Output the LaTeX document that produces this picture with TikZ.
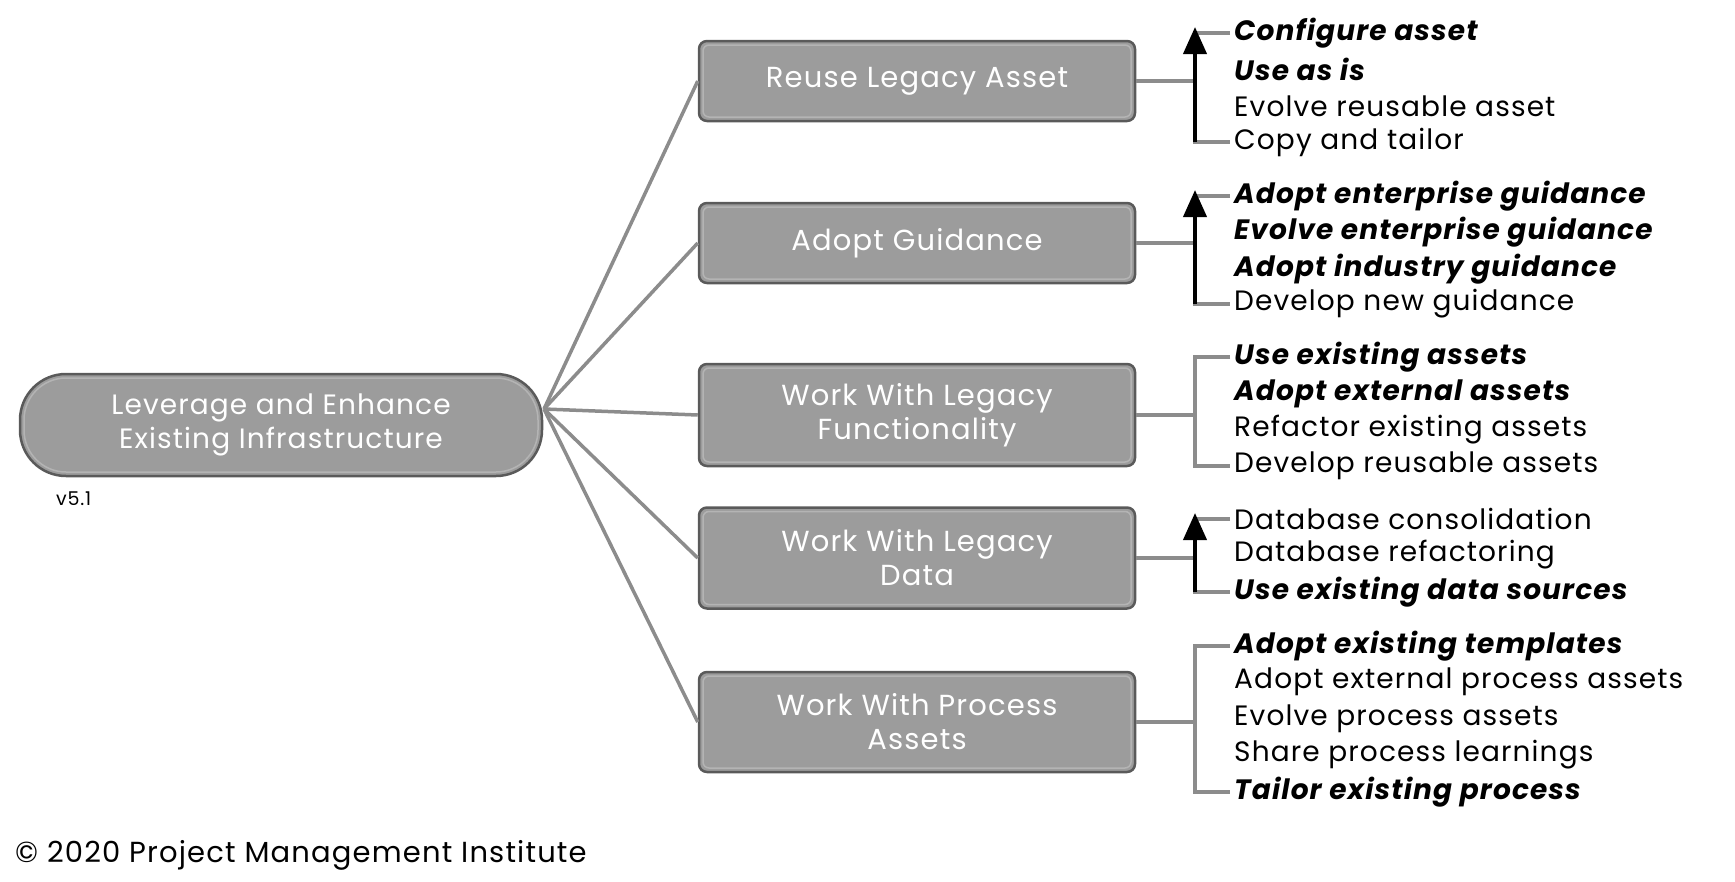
\documentclass[tikz,border=0pt]{standalone}
\usepackage{fontspec}
\setmainfont{Poppins}[LetterSpace=4]
\usetikzlibrary{arrows.meta}
\definecolor{boxfill}{HTML}{9C9C9C}
\definecolor{boxedge}{HTML}{5A5A5A}
\definecolor{boxhi}{HTML}{B4B4B4}
\definecolor{linegray}{HTML}{8C8C8C}
\tikzset{
  box/.style={draw=boxedge, line width=2.5pt, fill=boxfill, rounded corners=8pt,
    minimum width=436pt, minimum height=80pt, text=white, align=center,
    font=\fontsize{29}{34}\selectfont, inner sep=0pt,
    path picture={\draw[boxhi, line width=1.5pt, rounded corners=6pt]
      ([shift={(4pt,-4pt)}]path picture bounding box.north west) rectangle
      ([shift={(-4pt,4pt)}]path picture bounding box.south east);}},
  rootbox/.style={box, rounded corners=46pt, minimum width=522pt, minimum height=102pt,
    font=\fontsize{28}{34}\selectfont,
    path picture={\draw[boxhi, line width=1.5pt, rounded corners=42pt]
      ([shift={(4pt,-4pt)}]path picture bounding box.north west) rectangle
      ([shift={(-4pt,4pt)}]path picture bounding box.south east);}},
  item/.style={anchor=west, inner sep=4pt, font=\fontsize{28}{30}\selectfont, text=black},
  bitem/.style={item, font=\fontsize{28}{30}\selectfont\bfseries\itshape},
  gline/.style={draw=linegray, line width=3.5pt},
  aline/.style={draw=black, line width=4pt, -{Triangle[length=27pt,width=23pt]}},
}
\begin{document}
\begin{tikzpicture}[x=1pt,y=-1pt]
\useasboundingbox (0,0) rectangle (1735,881);
\coordinate (vx) at (1195,0);
\coordinate (hub) at (544,409);
% root
\node[rootbox] (root) at (281,425) {Leverage and Enhance\\Existing Infrastructure};
% child boxes
\node[box] (b1) at (917,81) {Reuse Legacy Asset};
\node[box] (b2) at (917,243) {Adopt Guidance};
\node[box, minimum height=102pt] (b3) at (917,415) {Work With Legacy\\Functionality};
\node[box, minimum height=101pt] (b4) at (917,558) {Work With Legacy\\Data};
\node[box, minimum height=100pt] (b5) at (917,722) {Work With Process\\Assets};
% connectors from root
\foreach \b in {b1,b2,b3,b4,b5}{\draw[gline] (hub) -- (\b.west);}
% items group 1
\node[bitem] (i11) at (1230,33) {Configure asset};
\node[bitem] (i12) at (1230,69) {Use as is};
\node[item] (i13) at (1230,106) {Evolve reusable asset};
\node[item] (i14) at (1230,142) {Copy and tailor};
% group 2
\node[bitem] (i21) at (1230,196) {Adopt enterprise guidance};
\node[bitem] (i22) at (1230,232) {Evolve enterprise guidance};
\node[bitem] (i23) at (1230,269) {Adopt industry guidance};
\node[item] (i24) at (1230,304) {Develop new guidance};
% group 3
\node[bitem] (i31) at (1230,357) {Use existing assets};
\node[bitem] (i32) at (1230,394) {Adopt external assets};
\node[item] (i33) at (1230,430) {Refactor existing assets};
\node[item] (i34) at (1230,466) {Develop reusable assets};
% group 4
\node[item] (i41) at (1230,519) {Database consolidation};
\node[item] (i42) at (1230,555) {Database refactoring};
\node[bitem] (i43) at (1230,592) {Use existing data sources};
% group 5
\node[bitem] (i51) at (1230,646) {Adopt existing templates};
\node[item] (i52) at (1230,682) {Adopt external process assets};
\node[item] (i53) at (1230,719) {Evolve process assets};
\node[item] (i54) at (1230,755) {Share process learnings};
\node[bitem] (i55) at (1230,792) {Tailor existing process};
% brackets
\foreach \b/\t/\u in {b1/i11/i14, b2/i21/i24, b3/i31/i34, b4/i41/i43, b5/i51/i55}{
  \draw[gline] (\b.east) -- (\b.east -| vx);
  \draw[gline] (\t.west) -- (\t.west -| vx) -- (\u.west -| vx) -- (\u.west);
}
% arrows
\draw[aline] (i14.west -| vx) -- ([yshift=6pt]i11.west -| vx);
\draw[aline] (i24.west -| vx) -- ([yshift=6pt]i21.west -| vx);
\draw[aline] (i43.west -| vx) -- ([yshift=6pt]i41.west -| vx);
% footer
\node[anchor=west, inner sep=0pt, font=\fontsize{19}{22}\selectfont] (ver) at (56,499) {v5.1};
\node[anchor=west, inner sep=0pt, font=\fontsize{29}{32}\selectfont] (copy) at (15,855) {© 2020 Project Management Institute};
\end{tikzpicture}
\end{document}
